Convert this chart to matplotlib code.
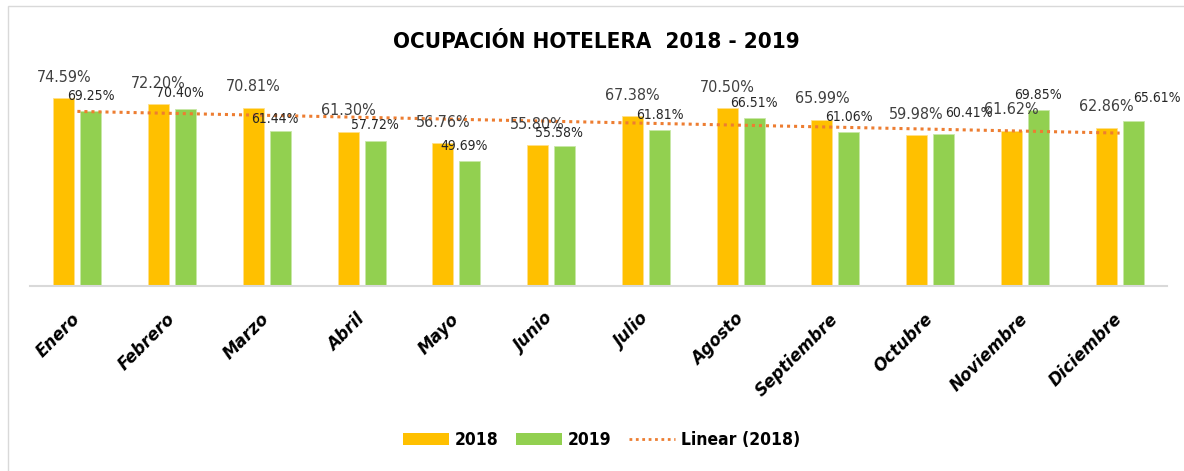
import matplotlib
matplotlib.use("Agg")
import matplotlib.pyplot as plt
from matplotlib.patches import Patch, Rectangle
from matplotlib.lines import Line2D
import numpy as np

meses = ['Enero', 'Febrero', 'Marzo', 'Abril', 'Mayo', 'Junio', 'Julio',
         'Agosto', 'Septiembre', 'Octubre', 'Noviembre', 'Diciembre']
ocup_2018 = [74.59, 72.20, 70.81, 61.30, 56.76, 55.80, 67.38, 70.50, 65.99, 59.98, 61.62, 62.86]
ocup_2019 = [69.25, 70.40, 61.44, 57.72, 49.69, 55.58, 61.81, 66.51, 61.06, 60.41, 69.85, 65.61]

# pequeños desplazamientos (x, y en puntos) de las etiquetas 2019 como en el original
nudge_2019 = {1: (-4, 0), 2: (-4, -2), 4: (-4, 0), 5: (-4, -2), 9: (18, 4), 11: (17, 5)}

c18 = '#FFC000'
c19 = '#92D050'
ctrend = '#ED7D31'
cond = dict(family='DejaVu Sans', stretch='condensed')

fig = plt.figure(figsize=(11.84, 4.71), dpi=100)

# marco del grafico
fig.patches.append(Rectangle((8 / 1184, -0.05), 1.2, (471 - 6) / 471 + 0.05,
                             transform=fig.transFigure, fill=False,
                             edgecolor='#D9D9D9', linewidth=1.0))

ax = fig.add_axes([30 / 1184, (471 - 286) / 471, 1137 / 1184, 201.6 / 471])

x = np.arange(len(meses))
w = 0.222
off = 0.143
ax.bar(x - off, ocup_2018, width=w, color=c18, edgecolor='#FFE08A', linewidth=0.6, label='2018')
ax.bar(x + off, ocup_2019, width=w, color=c19, edgecolor='#C9E8A8', linewidth=0.6, label='2019')

# linea de tendencia lineal (2018)
m, b = np.polyfit(x, ocup_2018, 1)
ax.plot(x, m * x + b, linestyle=(0, (1, 1.3)), color=ctrend, linewidth=2.2, label='Linear (2018)')

for i, v in enumerate(ocup_2018):
    ax.annotate(f'{v:.2f}%', (x[i] - off, v), xytext=(0, 15), textcoords='offset points',
                ha='center', va='center', fontsize=11.5, color='#404040', **cond)
for i, v in enumerate(ocup_2019):
    dx, dy = nudge_2019.get(i, (0, 0))
    ax.annotate(f'{v:.2f}%', (x[i] + off, v), xytext=(dx, 11 + dy), textcoords='offset points',
                ha='center', va='center', fontsize=10, color='#262626', **cond)

ax.set_xlim(-0.5, 11.5)
ax.set_ylim(0, 80)
ax.set_yticks([])
for s in ['top', 'right', 'left']:
    ax.spines[s].set_visible(False)
ax.spines['bottom'].set_color('#D9D9D9')
ax.spines['bottom'].set_linewidth(1.5)
ax.set_xticks(x)
ax.set_xticklabels(meses, rotation=45, ha='right', va='center', rotation_mode='anchor',
                   fontsize=12, fontweight='bold', fontstyle='italic', color='black')
ax.tick_params(axis='x', length=0, pad=22)

fig.text(0.504, (471 - 42) / 471, 'OCUPACIÓN HOTELERA  2018 - 2019', ha='center', va='center',
         fontsize=16, fontweight='bold', color='black', **cond)

handles = [Patch(facecolor=c18, edgecolor='none'),
           Patch(facecolor=c19, edgecolor='none'),
           Line2D([0], [0], linestyle=(0, (1, 1.3)), color=ctrend, linewidth=2)]
fig.legend(handles, ['2018', '2019', 'Linear (2018)'], loc='center', bbox_to_anchor=(0.508, (471 - 440) / 471),
           ncol=3, frameon=False, handlelength=2.65, handleheight=0.7, columnspacing=1.0, handletextpad=0.35,
           prop={'family': 'DejaVu Sans', 'stretch': 'condensed', 'weight': 'bold', 'size': 12.5})

fig.savefig('out.png', dpi=100)
